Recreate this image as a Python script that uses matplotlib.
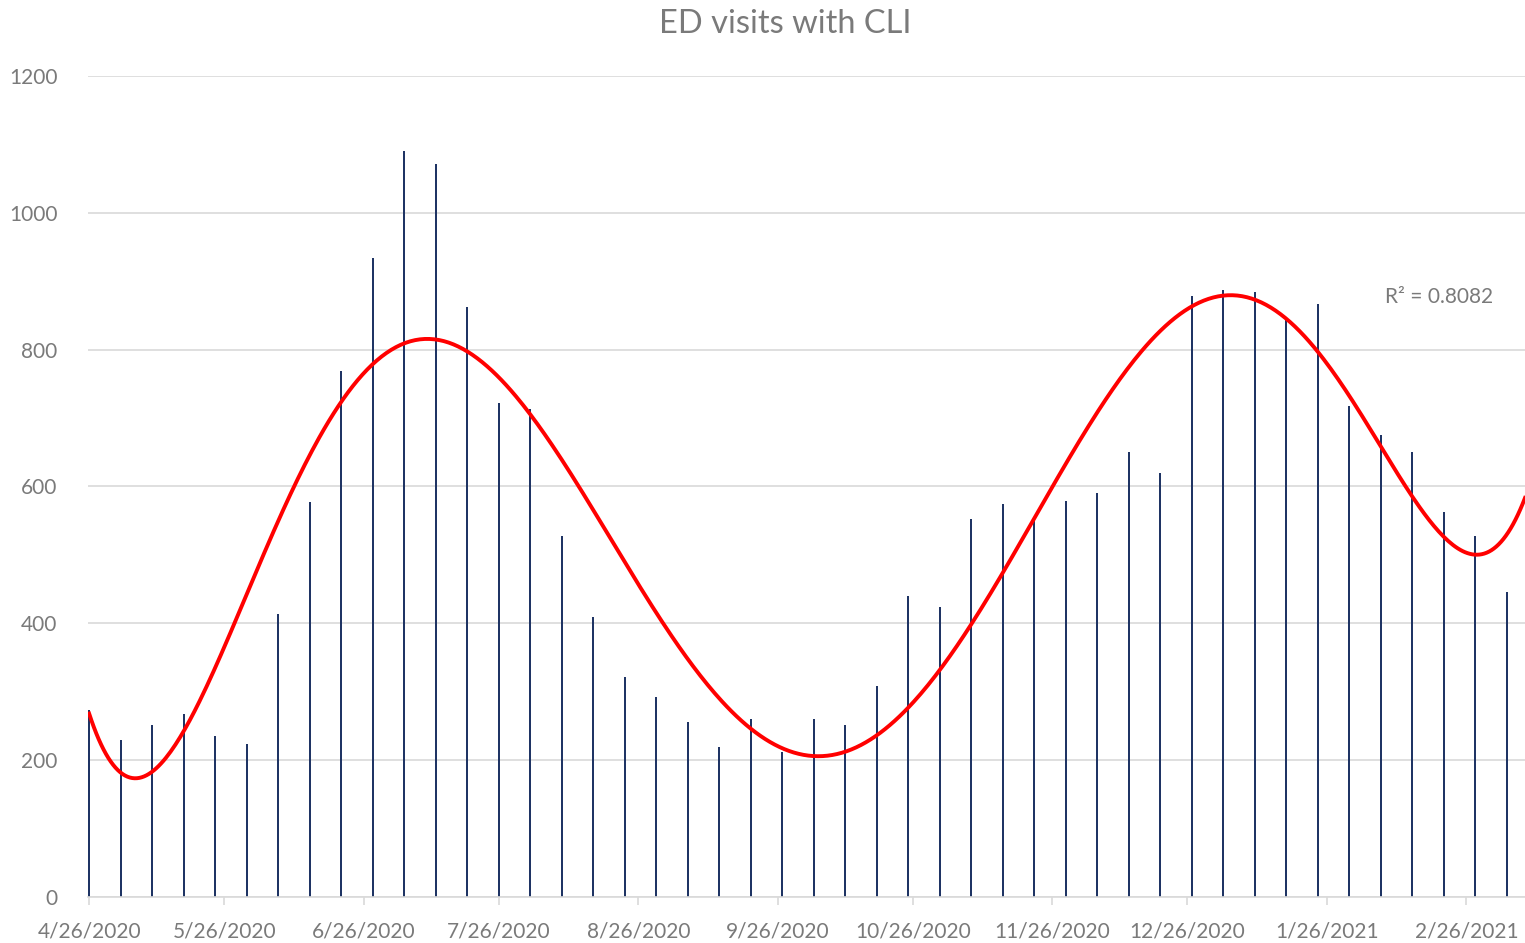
import numpy as np
import pandas as pd
import matplotlib
matplotlib.use("Agg")
import matplotlib.pyplot as plt
import matplotlib.dates as mdates

plt.rcParams['font.family'] = ['Lato', 'DejaVu Sans']

# weekly ED visits with CLI, weeks starting 4/26/2020
week_start = "2020-04-26"
visits = [273, 230, 251, 268, 235, 223, 413, 578, 769, 934,
          1090, 1071, 863, 722, 713, 527, 409, 321, 293, 256,
          219, 260, 212, 260, 251, 309, 440, 424, 553, 575,
          549, 579, 591, 650, 620, 878, 887, 884, 847, 867,
          717, 676, 650, 562, 527, 446]
tick_dates = ["2020-04-26", "2020-05-26", "2020-06-26", "2020-07-26", "2020-08-26",
              "2020-09-26", "2020-10-26", "2020-11-26", "2020-12-26", "2021-01-26",
              "2021-02-26"]
r2_text = "R² = 0.8082"

dates = pd.date_range(week_start, periods=len(visits), freq="7D")
x0 = pd.Timestamp(week_start)
x_end = pd.Timestamp("2021-03-11")

# 6th order polynomial trendline (as in the Excel chart)
days = (dates - x0).days.values.astype(float)
coef = np.polyfit(days, visits, 6)
xs = np.linspace(0, (x_end - x0).days, 600)
ys = np.polyval(coef, xs)
xs_dates = x0 + pd.to_timedelta(xs, unit="D")

txt_color = "#7a7a7a"

fig = plt.figure(figsize=(15.25, 9.43), dpi=100)
ax = fig.add_axes([88/1525, 46/943, 1 - 88/1525, (897-76)/943])

ax.bar(dates, visits, width=0.45, color="#1f3464", zorder=2)
ax.plot(xs_dates, ys, color="#ff0000", linewidth=2.8, zorder=3)

ax.set_ylim(0, 1200)
ax.set_yticks(range(0, 1201, 200))
ax.set_xlim(x0 - pd.Timedelta(hours=6), x_end)
ax.set_xticks(pd.to_datetime(tick_dates))
ax.xaxis.set_major_formatter(plt.FuncFormatter(
    lambda v, p: f"{mdates.num2date(v).month}/{mdates.num2date(v).day}/{mdates.num2date(v).year}"))

ax.grid(axis="y", color="#d9d9d9", linewidth=1.2, zorder=0)
for s in ["top", "right", "left"]:
    ax.spines[s].set_visible(False)
ax.spines["bottom"].set_color("#d9d9d9")
ax.spines["bottom"].set_linewidth(1.2)
ax.tick_params(axis="x", colors="#d9d9d9", length=6, width=1.2, labelcolor=txt_color,
               labelsize=15, pad=12)
ax.tick_params(axis="y", length=0, labelcolor=txt_color, labelsize=15, pad=22)

ax.text(pd.Timestamp("2021-03-04"), 877, r2_text, color=txt_color, fontsize=15,
        ha="right", va="center")
fig.text(0.515, 0.975, "ED visits with CLI", color=txt_color, fontsize=23.5,
         ha="center", va="center")

fig.savefig("out.png", dpi=100)
